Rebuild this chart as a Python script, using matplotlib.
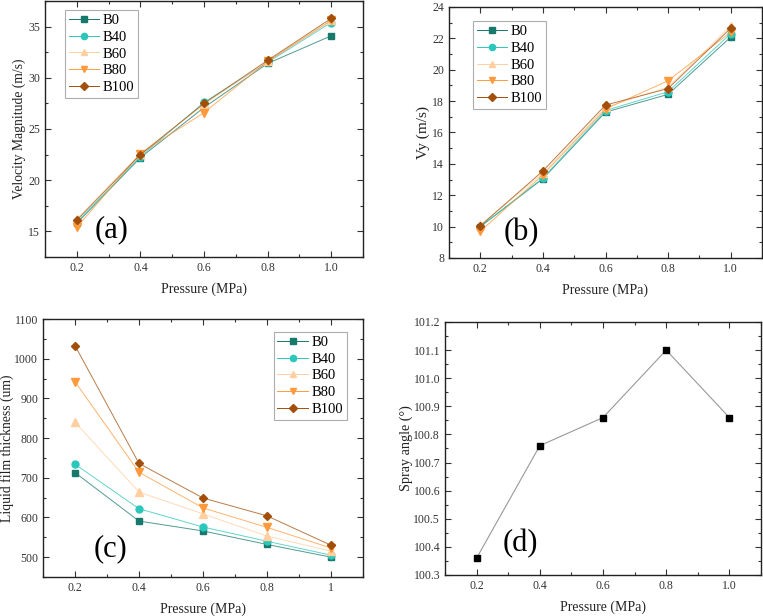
import matplotlib
matplotlib.use("Agg")
import matplotlib.pyplot as plt
from matplotlib.lines import Line2D
from matplotlib.ticker import MultipleLocator, FormatStrFormatter

plt.rcParams["font.family"] = ["Liberation Serif", "DejaVu Serif"]

pressure = [0.2, 0.4, 0.6, 0.8, 1.0]
series_names = ["B0", "B40", "B60", "B80", "B100"]

vel_mag = {
    "B0": [15.8, 22.2, 27.1, 31.4, 34.1],
    "B40": [15.9, 22.3, 27.6, 31.5, 35.4],
    "B60": [16.2, 22.6, 27.4, 31.6, 35.6],
    "B80": [15.4, 22.6, 26.6, 31.6, 35.6],
    "B100": [16.1, 22.5, 27.5, 31.7, 35.8],
}

vy = {
    "B0": [10.0, 13.05, 17.3, 18.43, 22.08],
    "B40": [10.0, 13.1, 17.4, 18.6, 22.3],
    "B60": [10.1, 13.4, 17.6, 18.9, 22.8],
    "B80": [9.7, 13.3, 17.5, 19.3, 22.4],
    "B100": [10.05, 13.55, 17.75, 18.8, 22.65],
}

film = {
    "B0": [713, 591, 566, 532, 500],
    "B40": [734, 622, 576, 540, 505],
    "B60": [840, 664, 609, 553, 515],
    "B80": [942, 714, 624, 575, 523],
    "B100": [1033, 736, 649, 604, 530],
}

spray_angle = [100.36, 100.76, 100.86, 101.10, 100.86]

colors = {
    "B0": "#17796c",
    "B40": "#2cc7bb",
    "B60": "#ffcfa0",
    "B80": "#ff9a3c",
    "B100": "#a24f0c",
}
markers = {"B0": "s", "B40": "o", "B60": "^", "B80": "v", "B100": "D"}
msizes = {"B0": 4.5, "B40": 5.0, "B60": 5.2, "B80": 5.5, "B100": 4.5}

fig = plt.figure(figsize=(7.63, 6.16), dpi=100)
W, H = 763, 616


def add_axes(l, r, t, b):
    return fig.add_axes([l / W, 1 - b / H, (r - l) / W, (b - t) / H])


ax_a = add_axes(45, 363, 1, 257)
ax_b = add_axes(449, 762, 7, 258)
ax_c = add_axes(43, 363, 319, 577)
ax_d = add_axes(445, 761, 322, 575)


def style(ax, ymajor, yminor):
    ax.set_xlim(0.1, 1.1)
    ax.xaxis.set_major_locator(MultipleLocator(0.2))
    ax.xaxis.set_minor_locator(MultipleLocator(0.1))
    ax.yaxis.set_major_locator(MultipleLocator(ymajor))
    ax.yaxis.set_minor_locator(MultipleLocator(yminor))
    ax.tick_params(which="both", direction="in", top=True, right=True,
                   labelsize=8.5, width=0.8, colors="#333333",
                   labelcolor="#333333")
    ax.tick_params(which="major", length=4)
    ax.tick_params(which="minor", length=2.5)
    for sp in ax.spines.values():
        sp.set_linewidth(1.0)
        sp.set_color("#222222")
    ax.set_xlabel("Pressure (MPa)", fontsize=10, labelpad=6, color="#222222")


def plot_group(ax, data):
    for name in series_names:
        c = colors[name]
        ax.plot(pressure, data[name], color=c, lw=0.7, alpha=0.75)
        ax.plot(pressure, data[name], linestyle="none", marker=markers[name],
                ms=msizes[name], color=c)


def add_legend(ax, loc, anchor):
    hs = [Line2D([], [], color=colors[n], lw=0.7, marker=markers[n],
                 ms=msizes[n] * 0.9, markerfacecolor=colors[n],
                 markeredgecolor=colors[n]) for n in series_names]
    leg = ax.legend(hs, series_names, loc=loc, bbox_to_anchor=anchor,
                    fontsize=10.5, frameon=True, fancybox=False,
                    edgecolor="#999999", handlelength=2.1, handletextpad=0.25,
                    labelspacing=0.25, borderpad=0.25, borderaxespad=0)
    leg.get_frame().set_linewidth(0.8)


def ylabel(ax, text, xfrac, size=9.8):
    ax.set_ylabel(text, fontsize=size, color="#222222")
    ax.yaxis.set_label_coords(xfrac, 0.5)


# (a)
plot_group(ax_a, vel_mag)
style(ax_a, 5, 2.5)
ax_a.set_ylim(12.5, 37.5)
ax_a.xaxis.set_major_formatter(FormatStrFormatter("%.1f"))
ylabel(ax_a, "Velocity Magnitude (m/s)", -0.06)
add_legend(ax_a, "upper left", (0.063, 0.965))
ax_a.text(0.21, 0.105, "(a)", transform=ax_a.transAxes, fontsize=22,
          ha="center", va="center")

# (b)
plot_group(ax_b, vy)
style(ax_b, 2, 1)
ax_b.set_ylim(8, 24)
ax_b.xaxis.set_major_formatter(FormatStrFormatter("%.1f"))
ylabel(ax_b, "Vy (m/s)", -0.06, 11)
add_legend(ax_b, "upper left", (0.077, 0.944))
ax_b.text(0.23, 0.10, "(b)", transform=ax_b.transAxes, fontsize=22,
          ha="center", va="center")

# (c)
plot_group(ax_c, film)
style(ax_c, 100, 50)
ax_c.set_ylim(450, 1100)
ax_c.set_xticks(pressure)
ax_c.set_xticklabels(["0.2", "0.4", "0.6", "0.8", "1"])
ylabel(ax_c, "Liquid film thickness (um)", -0.09)
add_legend(ax_c, "upper right", (0.95, 0.95))
ax_c.text(0.21, 0.11, "(c)", transform=ax_c.transAxes, fontsize=22,
          ha="center", va="center")

# (d)
ax_d.plot(pressure, spray_angle, color="#999999", lw=0.8)
ax_d.plot(pressure, spray_angle, linestyle="none", marker="s", ms=4.5,
          color="black")
style(ax_d, 0.1, 0.05)
ax_d.set_ylim(100.3, 101.2)
ax_d.xaxis.set_major_formatter(FormatStrFormatter("%.1f"))
ax_d.yaxis.set_major_formatter(FormatStrFormatter("%.1f"))
ylabel(ax_d, "Spray angle (°)", -0.10, 10.2)
ax_d.text(0.24, 0.126, "(d)", transform=ax_d.transAxes, fontsize=22,
          ha="center", va="center")

fig.savefig("out.png", dpi=100)
